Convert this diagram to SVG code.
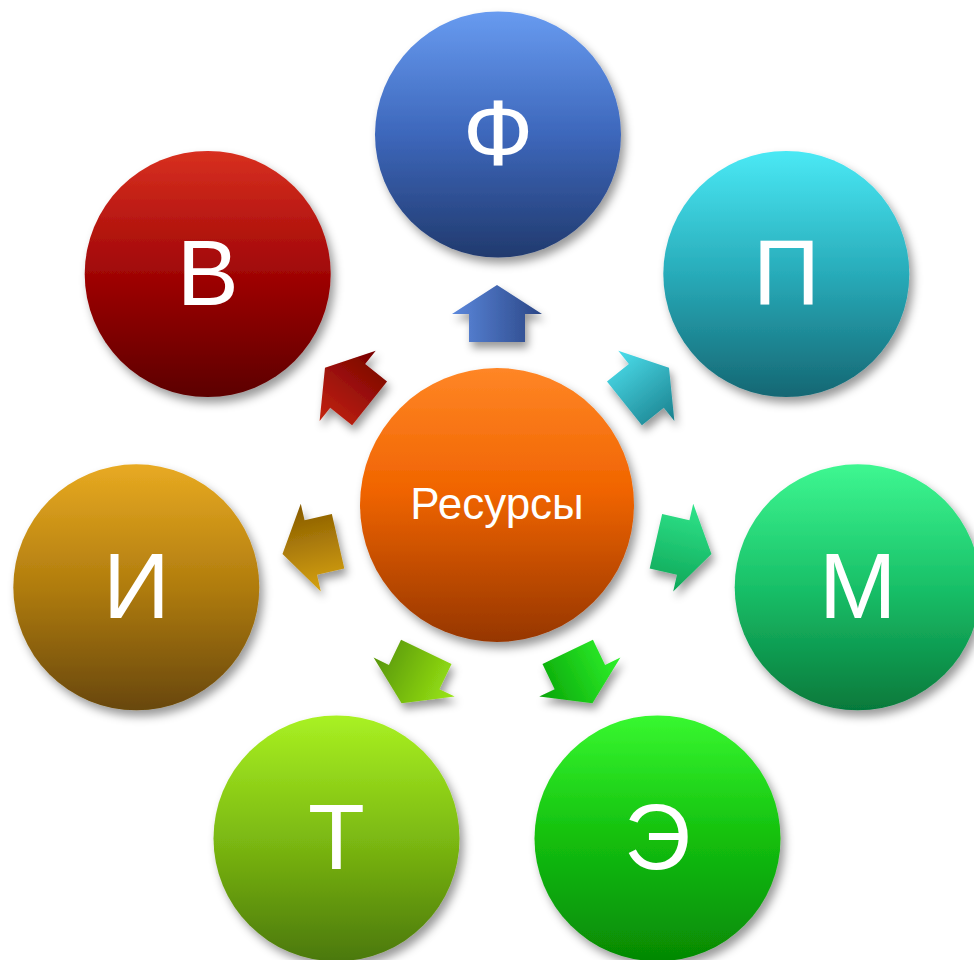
<svg xmlns="http://www.w3.org/2000/svg" width="974" height="960" viewBox="0 0 974 960">
<defs>
<filter id="sh" x="-20%" y="-20%" width="150%" height="150%">
<feDropShadow dx="4" dy="6" stdDeviation="5" flood-color="#000" flood-opacity="0.4"/>
</filter>
<filter id="sha" x="-40%" y="-40%" width="180%" height="180%">
<feDropShadow dx="3" dy="6" stdDeviation="4" flood-color="#000" flood-opacity="0.4"/>
</filter>
<linearGradient id="gC" x1="0" y1="0" x2="0" y2="1"><stop offset="0" stop-color="#ff8626"/><stop offset="0.45" stop-color="#f06400"/><stop offset="1" stop-color="#963600"/></linearGradient>
<linearGradient id="gF" x1="0" y1="0" x2="0" y2="1"><stop offset="0" stop-color="#689bf0"/><stop offset="0.5" stop-color="#3d67bb"/><stop offset="1" stop-color="#213a6e"/></linearGradient>
<linearGradient id="gP" x1="0" y1="0" x2="0" y2="1"><stop offset="0" stop-color="#4ae9f5"/><stop offset="0.5" stop-color="#28abb9"/><stop offset="1" stop-color="#156773"/></linearGradient>
<linearGradient id="gM" x1="0" y1="0" x2="0" y2="1"><stop offset="0" stop-color="#3ef791"/><stop offset="0.5" stop-color="#19c068"/><stop offset="1" stop-color="#06793b"/></linearGradient>
<linearGradient id="gE" x1="0" y1="0" x2="0" y2="1"><stop offset="0" stop-color="#38f830"/><stop offset="0.5" stop-color="#13bf0d"/><stop offset="1" stop-color="#058805"/></linearGradient>
<linearGradient id="gT" x1="0" y1="0" x2="0" y2="1"><stop offset="0" stop-color="#a9f122"/><stop offset="0.5" stop-color="#7cb912"/><stop offset="1" stop-color="#4b7808"/></linearGradient>
<linearGradient id="gI" x1="0" y1="0" x2="0" y2="1"><stop offset="0" stop-color="#e8aa22"/><stop offset="0.5" stop-color="#b07c0e"/><stop offset="1" stop-color="#684707"/></linearGradient>
<linearGradient id="gV" x1="0" y1="0" x2="0" y2="1"><stop offset="0" stop-color="#d83020"/><stop offset="0.5" stop-color="#a00606"/><stop offset="1" stop-color="#5c0000"/></linearGradient>
<linearGradient id="aF" x1="0" y1="0" x2="1" y2="0"><stop offset="0" stop-color="#5c88dc"/><stop offset="1" stop-color="#2a4686"/></linearGradient>
<linearGradient id="aP" x1="0" y1="0" x2="1" y2="0"><stop offset="0" stop-color="#4cdeec"/><stop offset="1" stop-color="#1a808d"/></linearGradient>
<linearGradient id="aM" x1="0" y1="0" x2="1" y2="0"><stop offset="0" stop-color="#30e48a"/><stop offset="1" stop-color="#0ea658"/></linearGradient>
<linearGradient id="aE" x1="0" y1="0" x2="1" y2="0"><stop offset="0" stop-color="#30f22c"/><stop offset="1" stop-color="#07a407"/></linearGradient>
<linearGradient id="aT" x1="0" y1="0" x2="1" y2="0"><stop offset="0" stop-color="#9ae616"/><stop offset="1" stop-color="#579506"/></linearGradient>
<linearGradient id="aI" x1="0" y1="0" x2="1" y2="0"><stop offset="0" stop-color="#d6a212"/><stop offset="1" stop-color="#865a00"/></linearGradient>
<linearGradient id="aV" x1="0" y1="0" x2="1" y2="0"><stop offset="0" stop-color="#c42412"/><stop offset="1" stop-color="#760000"/></linearGradient>
<path id="arr" d="M0,-29 L45,0 L28,0 L28,28 L-28,28 L-28,0 L-45,0 Z"/>
</defs>
<style>
.t{font-family:"Liberation Sans",Arial,sans-serif;fill:#fff;text-anchor:middle;font-size:93px}
.c{font-family:"Liberation Sans",Arial,sans-serif;fill:#fff;text-anchor:middle;font-size:44px}
</style>
<g id="connectors">
<g filter="url(#sha)"><use href="#arr" fill="url(#aF)" transform="rotate(0 497 505) translate(497 314)"/></g>
<g filter="url(#sha)"><use href="#arr" fill="url(#aP)" transform="rotate(51.43 497 505) translate(497 314)"/></g>
<g filter="url(#sha)"><use href="#arr" fill="url(#aM)" transform="rotate(102.86 497 505) translate(497 314)"/></g>
<g filter="url(#sha)"><use href="#arr" fill="url(#aE)" transform="rotate(154.29 497 505) translate(497 314)"/></g>
<g filter="url(#sha)"><use href="#arr" fill="url(#aT)" transform="rotate(205.71 497 505) translate(497 314)"/></g>
<g filter="url(#sha)"><use href="#arr" fill="url(#aI)" transform="rotate(257.14 497 505) translate(497 314)"/></g>
<g filter="url(#sha)"><use href="#arr" fill="url(#aV)" transform="rotate(308.57 497 505) translate(497 314)"/></g>
</g>
<g id="center">
<circle cx="497" cy="505" r="137" fill="url(#gC)" filter="url(#sh)"/>
<text class="c" x="497" y="519">Ресурсы</text>
</g>
<g id="node-F">
<circle cx="498" cy="134.5" r="123" fill="url(#gF)" filter="url(#sh)"/>
<text class="t" x="498" y="165">Ф</text>
</g>
<g id="node-P">
<circle cx="786.3" cy="274" r="123" fill="url(#gP)" filter="url(#sh)"/>
<text class="t" x="786.3" y="305">П</text>
</g>
<g id="node-M">
<circle cx="857.7" cy="587.3" r="123" fill="url(#gM)" filter="url(#sh)"/>
<text class="t" x="857.7" y="618">М</text>
</g>
<g id="node-E">
<circle cx="657.5" cy="838.4" r="123" fill="url(#gE)" filter="url(#sh)"/>
<text class="t" x="657.5" y="869">Э</text>
</g>
<g id="node-T">
<circle cx="336.5" cy="838.4" r="123" fill="url(#gT)" filter="url(#sh)"/>
<text class="t" x="336.5" y="869">Т</text>
</g>
<g id="node-I">
<circle cx="136.3" cy="587.3" r="123" fill="url(#gI)" filter="url(#sh)"/>
<text class="t" x="136.3" y="618">И</text>
</g>
<g id="node-V">
<circle cx="207.7" cy="274" r="123" fill="url(#gV)" filter="url(#sh)"/>
<text class="t" x="207.7" y="305">В</text>
</g>
</svg>
